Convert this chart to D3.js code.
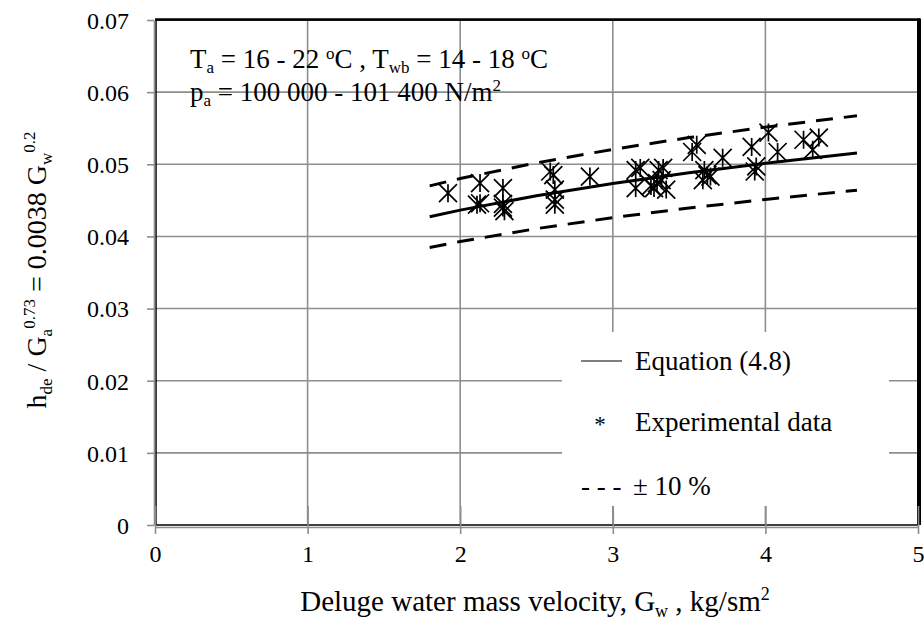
<!DOCTYPE html>
<html>
<head>
<meta charset="utf-8">
<script src="https://cdn.jsdelivr.net/npm/d3@7"></script>
<style>
  html, body { margin: 0; padding: 0; background: #fff; }
  svg { display: block; }
  svg text { font-family: 'Liberation Serif', 'Times New Roman', serif; fill: #000; }
</style>
</head>
<body>
<svg id="chart" width="924" height="634"></svg>
<script>
// Experimental data: deluge water mass velocity Gw (kg/sm2) and h_de / Ga^0.73
const gwData = [1.92, 2.13, 2.11, 2.13, 2.28, 2.28, 2.28, 2.29, 2.59, 2.61, 2.62, 2.62, 2.62, 2.85,
  3.15, 3.15, 3.18, 3.27, 3.30, 3.33, 3.32, 3.35, 3.29, 3.25, 3.52, 3.55, 3.60, 3.59, 3.64, 3.62,
  3.72, 3.91, 3.94, 3.93, 4.02, 4.08, 4.25, 4.35, 4.31];
const hData = [0.0460, 0.0474, 0.0444, 0.0446, 0.0467, 0.0445, 0.0440, 0.0435, 0.0490, 0.0485, 0.0465, 0.0451, 0.0444, 0.0483,
  0.0492, 0.0467, 0.0495, 0.0467, 0.0492, 0.0495, 0.0478, 0.0465, 0.0474, 0.0470, 0.0517, 0.0527, 0.0492, 0.0478, 0.0483, 0.0485,
  0.0509, 0.0524, 0.0497, 0.0490, 0.0544, 0.0517, 0.0534, 0.0537, 0.0520];

// Equation (4.8) curve and its +/- 10 % band
const gwCurve = [1.8, 2.0, 2.5, 3.0, 3.5, 4.0, 4.6];
const hEquation = [0.04274, 0.04365, 0.04564, 0.04734, 0.04882, 0.05014, 0.05157];
const hUpper = [0.04701, 0.04802, 0.05020, 0.05207, 0.05370, 0.05515, 0.05673];
const hLower = [0.03847, 0.03929, 0.04108, 0.04261, 0.04394, 0.04513, 0.04641];

// Axis ticks
const xTicks = [0, 1, 2, 3, 4, 5];
const yTicks = [0, 0.01, 0.02, 0.03, 0.04, 0.05, 0.06, 0.07];

const FONT = "'Liberation Serif', 'Times New Roman', serif";
const svg = d3.select("#chart").attr("font-family", FONT);
const W = 924, H = 634;
const m = { left: 155, right: 6, top: 20, bottom: 109 };
const pw = W - m.left - m.right, ph = H - m.top - m.bottom;

const x = d3.scaleLinear().domain([0, 5]).range([m.left, m.left + pw]);
const y = d3.scaleLinear().domain([0, 0.07]).range([m.top + ph, m.top]);

const GRID = "#8e8e8e";

// gridlines
svg.append("g").selectAll("line").data(xTicks.slice(1, -1)).join("line")
  .attr("x1", d => x(d)).attr("x2", d => x(d))
  .attr("y1", y(0)).attr("y2", y(0.07))
  .attr("stroke", GRID).attr("stroke-width", 1.6);
svg.append("g").selectAll("line").data(yTicks.slice(1, -1)).join("line")
  .attr("x1", x(0)).attr("x2", x(5))
  .attr("y1", d => y(d)).attr("y2", d => y(d))
  .attr("stroke", GRID).attr("stroke-width", 1.6);

// plot frame
svg.append("rect")
  .attr("x", x(0) + 1).attr("y", y(0.07))
  .attr("width", x(5) - x(0) - 1).attr("height", y(0) - y(0.07))
  .attr("fill", "none").attr("stroke", "#000").attr("stroke-width", 1.5);
svg.append("line").attr("x1", x(0)).attr("x2", x(5) + 2).attr("y1", y(0.07) - 0.5).attr("y2", y(0.07) - 0.5)
  .attr("stroke", "#000").attr("stroke-width", 2.5);
svg.append("line").attr("x1", x(5) + 1).attr("x2", x(5) + 1).attr("y1", y(0.07) - 1.5).attr("y2", y(0))
  .attr("stroke", "#000").attr("stroke-width", 4);

// axes (gray, with tick marks)
const xAxis = d3.axisBottom(x).tickValues(xTicks).tickFormat(d3.format("d")).tickSize(0);
const gx = svg.append("g").attr("transform", `translate(0,${y(0) + 2})`).call(xAxis)
  .attr("font-family", FONT).attr("font-size", 24);
gx.select(".domain").attr("stroke", GRID).attr("stroke-width", 1.6);
gx.selectAll(".tick line").attr("stroke", GRID).attr("stroke-width", 1.6)
  .attr("y1", -21).attr("y2", 7);
gx.selectAll(".tick text").attr("y", 27).attr("dy", "0.35em");

const yAxis = d3.axisLeft(y).tickValues(yTicks)
  .tickFormat(d => d === 0 ? "0" : d3.format(".2f")(d)).tickSize(0);
const gy = svg.append("g").attr("transform", `translate(${x(0) - 1},0)`).call(yAxis)
  .attr("font-family", FONT).attr("font-size", 24);
gy.select(".domain").attr("stroke", GRID).attr("stroke-width", 1.6);
gy.selectAll(".tick line").attr("stroke", GRID).attr("stroke-width", 1.6)
  .attr("x1", -7).attr("x2", 0);
gy.selectAll(".tick text").attr("x", -25).attr("dy", "0.35em");

// curves
const line = d3.line().x(d => x(d[0])).y(d => y(d[1]));
const zip = arr => gwCurve.map((g, i) => [g, arr[i]]);
svg.append("path").attr("d", line(zip(hUpper)))
  .attr("fill", "none").attr("stroke", "#000").attr("stroke-width", 3).attr("stroke-dasharray", "17,11");
svg.append("path").attr("d", line(zip(hLower)))
  .attr("fill", "none").attr("stroke", "#000").attr("stroke-width", 3).attr("stroke-dasharray", "17,11");
svg.append("path").attr("d", line(zip(hEquation)))
  .attr("fill", "none").attr("stroke", "#000").attr("stroke-width", 3);

// star markers (X with a vertical bar)
function starPath(cx, cy, r) {
  return `M${cx - r},${cy - r}L${cx + r},${cy + r}M${cx - r},${cy + r}L${cx + r},${cy - r}` +
         `M${cx},${cy - r}L${cx},${cy + r}`;
}
svg.append("g").selectAll("path").data(gwData.map((g, i) => [g, hData[i]])).join("path")
  .attr("d", d => starPath(x(d[0]), y(d[1]), 9))
  .attr("fill", "none").attr("stroke", "#000").attr("stroke-width", 1.7);

// legend box
const lg = svg.append("g").attr("font-size", 27);
lg.append("rect").attr("x", 562).attr("y", 332).attr("width", 327).attr("height", 174).attr("fill", "#fff");
lg.append("line").attr("x1", 581).attr("x2", 622).attr("y1", 361).attr("y2", 361)
  .attr("stroke", "#000").attr("stroke-width", 1.2);
lg.append("text").attr("x", 635).attr("y", 370).text("Equation (4.8)");
lg.append("text").attr("x", 600).attr("y", 432).attr("text-anchor", "middle").attr("font-size", 23).text("*");
lg.append("text").attr("x", 635).attr("y", 431).text("Experimental data");
lg.append("text").attr("x", 581).attr("y", 495).text("- - -");
lg.append("text").attr("x", 633).attr("y", 495).text("± 10 %");

// annotation
const ann = svg.append("g").attr("font-size", 27);
const l1 = ann.append("text").attr("x", 190).attr("y", 68);
l1.append("tspan").text("T");
l1.append("tspan").attr("dy", 5).attr("font-size", 17).text("a");
l1.append("tspan").attr("dy", -5).text(" = 16 - 22 ");
l1.append("tspan").attr("dy", -9).attr("font-size", 17).text("o");
l1.append("tspan").attr("dy", 9).text("C , T");
l1.append("tspan").attr("dy", 5).attr("font-size", 17).text("wb");
l1.append("tspan").attr("dy", -5).text(" = 14 - 18 ");
l1.append("tspan").attr("dy", -9).attr("font-size", 17).text("o");
l1.append("tspan").attr("dy", 9).text("C");
const l2 = ann.append("text").attr("x", 190).attr("y", 101);
l2.append("tspan").text("p");
l2.append("tspan").attr("dy", 5).attr("font-size", 17).text("a");
l2.append("tspan").attr("dy", -5).text(" = 100 000 - 101 400 N/m");
l2.append("tspan").attr("dy", -10).attr("font-size", 17).text("2");

// x axis title
const xt = svg.append("text").attr("x", 535).attr("y", 611).attr("text-anchor", "middle").attr("font-size", 29);
xt.append("tspan").text("Deluge water mass velocity, G");
xt.append("tspan").attr("dy", 6).attr("font-size", 18).text("w");
xt.append("tspan").attr("dy", -6).text(" , kg/sm");
xt.append("tspan").attr("dy", -11).attr("font-size", 18).text("2");

// y axis title
const yt = svg.append("text").attr("transform", "translate(46,270) rotate(-90)")
  .attr("text-anchor", "middle").attr("font-size", 28);
yt.append("tspan").text("h");
yt.append("tspan").attr("dy", 6).attr("font-size", 17).text("de");
yt.append("tspan").attr("dy", -6).text(" / G");
yt.append("tspan").attr("dy", 6).attr("font-size", 17).text("a");
yt.append("tspan").attr("dy", -17).attr("font-size", 17).text("0.73");
yt.append("tspan").attr("dy", 11).text(" = 0.0038 G");
yt.append("tspan").attr("dy", 6).attr("font-size", 17).text("w");
yt.append("tspan").attr("dy", -17).attr("font-size", 17).text("0.2");
</script>
</body>
</html>
